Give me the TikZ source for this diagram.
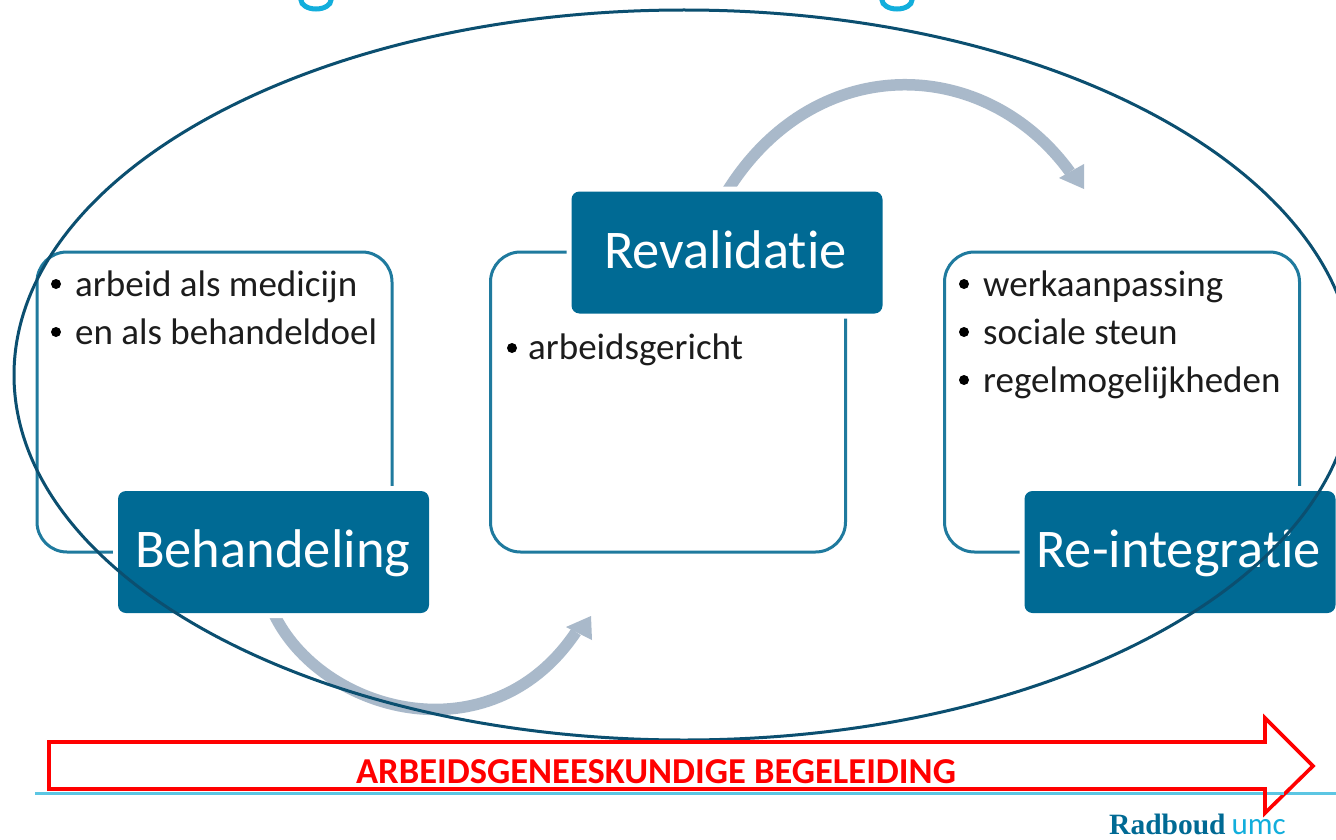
\documentclass[tikz,border=0pt]{standalone}
\usepackage{fontspec}
\setmainfont{Carlito}[Ligatures=NoCommon]
\newfontfamily\logofont{Liberation Serif}
\usetikzlibrary{backgrounds}
\definecolor{boxteal}{HTML}{006A94}
\definecolor{frameteal}{HTML}{1F7A9E}
\definecolor{ringblue}{HTML}{0B4F70}
\definecolor{flowgrey}{HTML}{A9B9CA}
\definecolor{titlecyan}{HTML}{12AEDC}
\definecolor{rulecyan}{HTML}{5CC6E3}
\definecolor{bodyink}{HTML}{1C1C1C}
\tikzset{
  framebox/.style={draw=frameteal,line width=3pt,rounded corners=30pt,minimum width=355pt,minimum height=300pt,inner sep=0pt,outer sep=0pt},
  phasebox/.style={preaction={draw=white,line width=10pt,rounded corners=8pt},fill=boxteal,rounded corners=8pt,minimum width=311pt,minimum height=122pt,inner sep=0pt,outer sep=0pt},
  phaselabel/.style={anchor=base west,text=white,font=\fontsize{54.5}{60}\selectfont,inner sep=0pt},
  bodytext/.style={anchor=base west,text=bodyink,font=\fontsize{37}{44}\selectfont,inner sep=0pt},
  bulletdot/.style={circle,fill=black,minimum size=10pt,inner sep=0pt},
  flow/.style={draw=flowgrey,line width=11.5pt},
  flowhead/.style={fill=flowgrey}
}
\begin{document}
\begin{tikzpicture}[x=1pt,y=-1pt]
\useasboundingbox (0,0) rectangle (1336,840);
\clip (0,0) rectangle (1336,840);
% clipped title descenders
\draw[titlecyan,line width=5pt] (316,0) ellipse [x radius=15pt,y radius=9pt];
\draw[titlecyan,line width=5pt] (897,0) ellipse [x radius=15pt,y radius=9pt];
% frames
\node[framebox] (f1) at (214.5,402) {};
\node[framebox] (f2) at (668,402) {};
\node[framebox] (f3) at (1122,402) {};
% phase boxes
\node[phasebox] (beh) at (273.5,552) {};
\node[phasebox] (rev) at (727,252.5) {};
\node[phasebox] (rei) at (1180,552) {};
\node[phaselabel] (behl) at (135,567) {Behandeling};
\node[phaselabel] (revl) at (604,268) {Revalidatie};
\node[phaselabel] (reil) at (1036,567) {Re-integratie};
% bullets
\node[bulletdot] (d1) at (56,284) {};
\node[bodytext] (t1) at (75,296) {arbeid als medicijn};
\node[bulletdot] (d2) at (56,332) {};
\node[bodytext] (t2) at (75,344) {en als behandeldoel};
\node[bulletdot] (d3) at (512,348) {};
\node[bodytext] (t3) at (528,359) {arbeidsgericht};
\node[bulletdot] (d4) at (964,284) {};
\node[bodytext] (t4) at (983,296) {werkaanpassing};
\node[bulletdot] (d5) at (964,332) {};
\node[bodytext] (t5) at (983,344) {sociale steun};
\node[bulletdot] (d6) at (964,380) {};
\node[bodytext] (t6) at (983,392) {regelmogelijkheden};
% flow arrows, behind the boxes and their white halos
\coordinate (a1e) at (576,632);
\coordinate (a2e) at (1070,172);
\begin{scope}[on background layer]
\fill[white] (0,0) rectangle (1336,840);
\draw[flow] (beh.south) .. controls (320,712) and (490,760) .. (a1e);
\fill[flowhead] (591,616) -- (566,627) -- (592,640) -- cycle;
\draw[flow] (rev.north) .. controls (815,50) and (985,55) .. (a2e);
\fill[flowhead] (1084,189) -- (1059,178) -- (1084,164) -- cycle;
\end{scope}
% ring
\draw[ringblue,line width=3pt] (684,375) ellipse [x radius=670pt,y radius=365pt];
% bottom rule, logo
\draw[rulecyan,line width=3pt] (35,793) -- (1336,793);
\node[anchor=base west,inner sep=0pt,font=\logofont\bfseries\fontsize{29.5}{30}\selectfont,text=boxteal] (logo1) at (1109,834) {Radboud};
\node[anchor=base east,inner sep=0pt,font=\fontsize{31}{30}\selectfont,text=titlecyan] (logo2) at (1286,834) {umc};
% red arrow
\draw[red,line width=3.6pt,fill=white,miter limit=10] (49,742) -- (1265,742) -- (1265,718) -- (1313,766) -- (1265,813) -- (1265,789) -- (49,789) -- cycle;
\draw[rulecyan,line width=3pt] (1267,793) -- (1284,793);
\node[anchor=base,inner sep=0pt,text=red,font=\bfseries\fontsize{36.5}{38}\selectfont] (lab) at (656,783) {ARBEIDSGENEESKUNDIGE BEGELEIDING};
\end{tikzpicture}
\end{document}
